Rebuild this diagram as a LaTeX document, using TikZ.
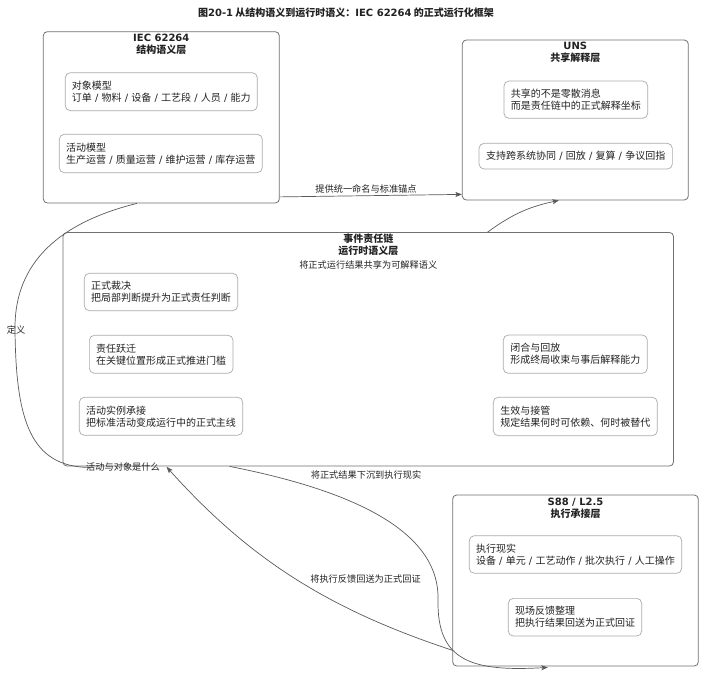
\documentclass[tikz,border=0pt]{standalone}
\usepackage{fontspec}
\setmainfont{Noto Sans CJK SC}
\newfontfamily\lat{DejaVu Sans}
\usetikzlibrary{arrows.meta,calc}
\definecolor{frameline}{HTML}{707070}
\definecolor{itemline}{HTML}{ABABAB}
\definecolor{edgeline}{HTML}{5A5A5A}
\definecolor{inktext}{HTML}{222222}
\newcommand{\slsep}{{\lat\ /\ }}
\tikzset{
 layer/.style={draw=frameline,rounded corners=4pt,line width=0.8pt},
 item/.style={draw=itemline,rounded corners=5pt,line width=0.7pt,align=left,inner sep=0pt,
  font=\fontsize{10}{12}\selectfont,text=inktext},
 head/.style={align=center,inner sep=0pt,font=\fontsize{10}{12}\selectfont\bfseries,text=inktext},
 lbl/.style={inner sep=0pt,font=\fontsize{9.2}{11}\selectfont,text=inktext},
 wire/.style={draw=edgeline,line width=0.7pt},
 link/.style={wire,-{Stealth[length=6.5pt,width=5pt,inset=1.5pt]}},
}

\begin{document}
\begin{tikzpicture}[x=1pt,y=-1pt]
\fill[white] (0,0) rectangle (702,676);
\useasboundingbox (0,0) rectangle (702,676);

\node[head] (title) at (346,13) {图{\lat 20-1} 从结构语义到运行时语义：{\lat IEC 62264} 的正式运行化框架};

\node[layer,minimum width=236,minimum height=171.3] (iec) at (161.3,117.35) {};
\node[head] (iechead) at (161.3,44.5) {{\lat IEC 62264}\\结构语义层};
\node[item,minimum width=192,minimum height=38] (objmodel) at (161.3,91.7)
 {对象模型\\订单\slsep 物料\slsep 设备\slsep 工艺段\slsep 人员\slsep 能力};
\node[item,minimum width=203,minimum height=38.4] (actmodel) at (160.8,153.5)
 {活动模型\\生产运营\slsep 质量运营\slsep 维护运营\slsep 库存运营};

\node[layer,minimum width=226,minimum height=160] (uns) at (575.3,120) {};
\node[head] (unshead) at (575.3,52.8) {{\lat UNS}\\共享解释层};
\node[item,minimum width=143.7,minimum height=37.3] (sharecoord) at (575.8,99.7)
 {共享的不是零散消息\\而是责任链中的正式解释坐标};
\node[item,minimum width=193.3,minimum height=25.7] (syncreplay) at (575.7,156.2)
 {支持跨系统协同\slsep 回放\slsep 复算\slsep 争议回指};

\node[layer,minimum width=610.5,minimum height=233.5] (chain) at (368.25,349.25) {};
\node[head] (chainhead) at (368.25,245) {事件责任链\\运行时语义层};
\node[lbl] (chainsub) at (368.25,265) {将正式运行结果共享为可解释语义};
\node[item,minimum width=153.4,minimum height=37.4] (ruling) at (161,292)
 {正式裁决\\把局部判断提升为正式责任判断};
\node[item,minimum width=143.7,minimum height=38] (handover) at (161.2,354.3)
 {责任跃迁\\在关键位置形成正式推进门槛};
\node[item,minimum width=163.4,minimum height=38] (instance) at (161,416.3)
 {活动实例承接\\把标准活动变成运行中的正式主线};
\node[item,minimum width=144,minimum height=38.3] (closure) at (575.3,354.2)
 {闭合与回放\\形成终局收束与事后解释能力};
\node[item,minimum width=164,minimum height=38.4] (takeover) at (575.3,416.5)
 {生效与接管\\规定结果何时可依赖、何时被替代};

\node[layer,minimum width=245.6,minimum height=171] (s88) at (575.5,580.5) {};
\node[head] (s88head) at (575.5,508.8) {{\lat S88 / L2.5}\\执行承接层};
\node[item,minimum width=212.4,minimum height=37.6] (execreal) at (575.5,554.5)
 {执行现实\\设备\slsep 单元\slsep 工艺动作\slsep 批次执行\slsep 人工操作};
\node[item,minimum width=133.4,minimum height=37.7] (fieldfb) at (575,617.2)
 {现场反馈整理\\把执行结果回送为正式回证};

\coordinate (defend) at (90,467.5);
\draw[link] ($(iec.south east)+(0,-6.5)$) -- ($(uns.south west)+(0,-6)$);
\draw[link] ($(chain.north west)+(425,0)$) to[bend left=12] ($(uns.south west)+(97,0)$);
\draw[wire] ($(iec.south west)+(94,0)$) .. controls (50,225) and (14,270) .. (15,330)
 .. controls (16,420) and (30,467) .. (defend);
\draw[link] ($(chain.south west)+(167,0)$) .. controls (350,490) and (440,530) .. (438,600)
 .. controls (437,660) and (470,672) .. ($(s88.south west)+(95.5,1)$);
\draw[link] ($(s88.south west)+(0.5,-16)$) .. controls (330,610) and (250,560) .. ($(chain.south west)+(104,0.5)$);

\node[lbl] (namelbl) at (366,189) {提供统一命名与标准锚点};
\node[lbl] (deflbl) at (16,330) {定义};
\node[lbl] (whatlbl) at (123,466.5) {活动与对象是什么};
\node[lbl] (sinklbl) at (366,474.5) {将正式结果下沉到执行现实};
\node[lbl] (backlbl) at (365.5,579.3) {将执行反馈回送为正式回证};
\end{tikzpicture}
\end{document}
